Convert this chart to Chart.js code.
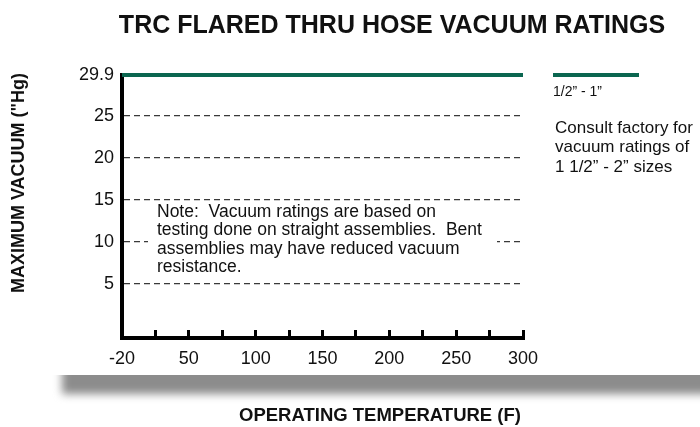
<!DOCTYPE html>
<html>
<head>
<meta charset="utf-8">
<title>TRC Flared Thru Hose Vacuum Ratings</title>
<script src="https://cdn.jsdelivr.net/npm/chart.js@4/dist/chart.umd.min.js"></script>
<style>
  html, body { margin: 0; padding: 0; background: #fff; }
  #wrap { width: 700px; height: 427px; }
</style>
</head>
<body>
<div id="wrap"><canvas id="vac" width="700" height="427"></canvas></div>
<script>
// --- data ---
const TEMP_LABELS = ['-20', '50', '100', '150', '200', '250', '300'];
const VAC_HALF_TO_ONE = [29.9, 29.9, 29.9, 29.9, 29.9, 29.9, 29.9];
const Y_TICKS = [5, 10, 15, 20, 25, 29.9];

const FONT = "'Liberation Sans', Arial, Helvetica, sans-serif";
const GREEN = '#0b6650';
const INK = '#111';

const NOTE_LINES = [
  'Note:  Vacuum ratings are based on',
  'testing done on straight assemblies.  Bent',
  'assemblies may have reduced vacuum',
  'resistance.'
];
const CONSULT_LINES = ['Consult factory for', 'vacuum ratings of', '1 1/2\u201D - 2\u201D sizes'];

Chart.defaults.font.family = FONT;
Chart.defaults.color = INK;

// extras: title, axis titles, legend, note box and the grey shadow bar
const decor = {
  id: 'decor',
  afterDraw(chart) {
    const ctx = chart.ctx;
    const area = chart.chartArea;

    ctx.save();
    // shadow bar: sharp top edge, soft bottom and left edges
    ctx.save();
    ctx.beginPath();
    ctx.rect(0, 375, 700, 52);
    ctx.clip();
    ctx.filter = 'blur(4px)';
    ctx.fillStyle = '#8c8c8c';
    ctx.fillRect(62, 362, 690, 32);
    ctx.restore();

    // title
    ctx.fillStyle = INK;
    ctx.textAlign = 'center';
    ctx.textBaseline = 'alphabetic';
    ctx.font = 'bold 25px ' + FONT;
    ctx.fillText('TRC FLARED THRU HOSE VACUUM RATINGS', 392, 33);

    // x title
    ctx.font = 'bold 18.5px ' + FONT;
    ctx.fillText('OPERATING TEMPERATURE (F)', 380, 421);

    // y title
    ctx.save();
    ctx.translate(24, 183);
    ctx.rotate(-Math.PI / 2);
    ctx.font = 'bold 18px ' + FONT;
    ctx.fillText('MAXIMUM VACUUM ("Hg)', 0, 0);
    ctx.restore();

    // note box
    ctx.fillStyle = '#fff';
    ctx.fillRect(148, 204, 349, 74);
    ctx.fillStyle = INK;
    ctx.textAlign = 'left';
    ctx.textBaseline = 'middle';
    ctx.font = '17.5px ' + FONT;
    NOTE_LINES.forEach((t, i) => ctx.fillText(t, 157, 212 + i * 18.4));

    // legend
    const lx = area.right + 30;
    ctx.strokeStyle = GREEN;
    ctx.lineWidth = 4;
    ctx.beginPath();
    ctx.moveTo(lx, area.top);
    ctx.lineTo(lx + 86, area.top);
    ctx.stroke();
    ctx.font = '14px ' + FONT;
    ctx.fillText('1/2\u201D - 1\u201D', lx, 92);
    ctx.font = '17px ' + FONT;
    CONSULT_LINES.forEach((t, i) => ctx.fillText(t, lx + 2, 128 + i * 19.5));
    ctx.restore();
  }
};

new Chart(document.getElementById('vac'), {
  type: 'line',
  data: {
    datasets: [{
      label: '1/2\u201D - 1\u201D',
      data: TEMP_LABELS.map((t, i) => ({ x: i * 2, y: VAC_HALF_TO_ONE[i] })),
      borderColor: GREEN,
      borderWidth: 4,
      pointRadius: 0,
      clip: false
    }]
  },
  options: {
    responsive: false,
    animation: false,
    layout: { padding: { top: 75, right: 177, left: 0, bottom: 0 } },
    plugins: {
      legend: { display: false },
      title: { display: false },
      tooltip: { enabled: false }
    },
    scales: {
      x: {
        type: 'linear',
        min: 0,
        max: 12,
        afterFit: s => { s.height = 89; },
        ticks: {
          stepSize: 1,
          autoSkip: false,
          maxRotation: 0,
          padding: 18,
          color: INK,
          font: { size: 18 },
          callback: v => (v % 2 === 0 ? TEMP_LABELS[v / 2] : '')
        },
        grid: {
          drawOnChartArea: false,
          drawTicks: true,
          tickLength: -8,
          tickWidth: 3,
          tickColor: '#000'
        },
        border: { color: '#000', width: 4 }
      },
      y: {
        min: -1.5,
        max: 29.9,
        afterFit: s => { s.width = 122; },
        afterBuildTicks: s => { s.ticks = Y_TICKS.map(v => ({ value: v })); },
        ticks: {
          padding: 8,
          color: INK,
          font: { size: 18 }
        },
        grid: {
          drawTicks: false,
          lineWidth: 1.2,
          color: c => (c.tick && c.tick.value < 29 ? '#3a3a3a' : 'rgba(0,0,0,0)')
        },
        border: { color: '#000', width: 4, dash: [6, 4] }
      }
    }
  },
  plugins: [decor]
});
</script>
</body>
</html>
